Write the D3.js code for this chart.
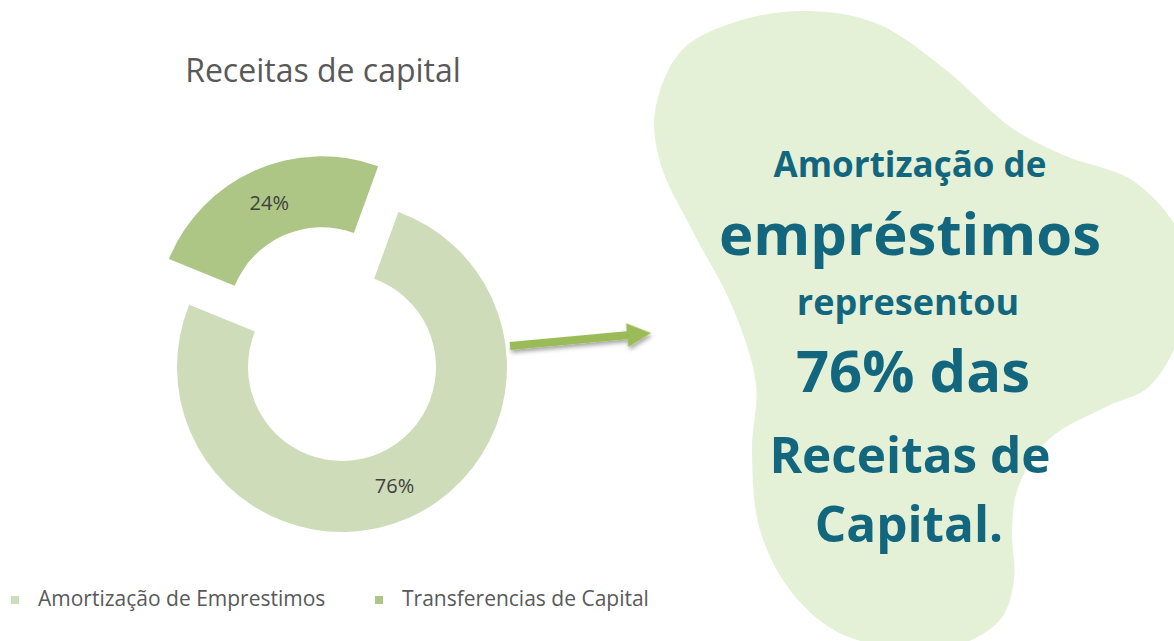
<!DOCTYPE html>
<html>
<head>
<meta charset="utf-8">
<script src="https://cdn.jsdelivr.net/npm/d3@7"></script>
<style>
  body { margin: 0; background: #fff; }
  svg { display: block; }
</style>
</head>
<body>
<div id="chart"></div>
<script>
// data
const categories = ["Amortização de Emprestimos", "Transferencias de Capital"];
const shares = [75.6, 24.4];
const sliceColors = ["#cedcb9", "#adc685"];
const chartTitle = "Receitas de capital";
const calloutLines = ["Amortização de", "empréstimos", "representou", "76% das", "Receitas de", "Capital."];

const svgWidth = 1174, svgHeight = 641;

const svg = d3.select("#chart")
    .append("svg")
    .attr("width", svgWidth)
    .attr("height", svgHeight);

const defs = svg.append("defs");
defs.append("filter")
    .attr("id", "shadow")
    .attr("x", "-20%").attr("y", "-50%")
    .attr("width", "140%").attr("height", "200%")
    .append("feDropShadow")
    .attr("dx", 1).attr("dy", 3)
    .attr("stdDeviation", 2)
    .attr("flood-color", "#000")
    .attr("flood-opacity", 0.35);

// blob behind the callout text
const blobPoints = [
    [655, 112], [682, 50], [742, 20], [810, 11], [878, 24], [946, 70],
    [1012, 128], [1066, 156], [1135, 182], [1182, 240], [1184, 320],
    [1150, 386], [1108, 406], [1048, 440], [1018, 488], [1012, 530],
    [1014, 580], [1000, 620], [946, 648], [846, 636], [793, 594],
    [760, 530], [752, 450], [756, 384], [732, 306], [692, 230], [661, 165]
];
svg.append("path")
    .attr("d", d3.line().curve(d3.curveCatmullRomClosed.alpha(0.5))(blobPoints))
    .attr("fill", "#e5f1d6");

// title
svg.append("text")
    .attr("x", 323)
    .attr("y", 82)
    .attr("text-anchor", "middle")
    .attr("font-family", "Open Sans, sans-serif")
    .attr("font-size", 32)
    .attr("fill", "#595959")
    .text(chartTitle);

// donut
const cx = 342, cy = 367;
const outerR = 165, innerR = 94;
const start = 20 * Math.PI / 180;
const explode = 50;

const pie = d3.pie()
    .sort(null)
    .value(d => d)
    .startAngle(start)
    .endAngle(start + 2 * Math.PI);

const arc = d3.arc()
    .innerRadius(innerR)
    .outerRadius(outerR);

const fmt = d3.format(".0f");

const slices = svg.append("g")
    .attr("transform", `translate(${cx},${cy})`)
    .selectAll("g")
    .data(pie(shares))
    .enter().append("g")
    .attr("transform", (d, i) => {
        if (i !== 1) return null;
        const mid = (d.startAngle + d.endAngle) / 2;
        return `translate(${explode * Math.sin(mid)},${-explode * Math.cos(mid)})`;
    });

slices.append("path")
    .attr("d", arc)
    .attr("fill", (d, i) => sliceColors[i]);

slices.append("text")
    .attr("transform", d => `translate(${arc.centroid(d)})`)
    .attr("dy", "0.36em")
    .attr("text-anchor", "middle")
    .attr("font-family", "Open Sans, sans-serif")
    .attr("font-size", 20)
    .attr("fill", "#404040")
    .text(d => fmt(d.data) + "%");

// legend
const legendX = [11, 375];
const legend = svg.append("g")
    .selectAll("g")
    .data(categories)
    .enter().append("g")
    .attr("transform", (d, i) => `translate(${legendX[i]},596)`);

legend.append("rect")
    .attr("width", 8)
    .attr("height", 8)
    .attr("fill", (d, i) => sliceColors[i]);

legend.append("text")
    .attr("x", 27)
    .attr("y", 10)
    .attr("font-family", "Open Sans, sans-serif")
    .attr("font-size", 21)
    .attr("fill", "#595959")
    .text(d => d);

// arrow
const a0 = [510, 346], a1 = [651, 333];
const len = Math.hypot(a1[0] - a0[0], a1[1] - a0[1]);
const ang = Math.atan2(a1[1] - a0[1], a1[0] - a0[0]) * 180 / Math.PI;
const arrow = svg.append("g")
    .attr("transform", `translate(${a0[0]},${a0[1]}) rotate(${ang})`)
    .attr("filter", "url(#shadow)")
    .attr("fill", "#9bbb59");
arrow.append("rect")
    .attr("x", 0).attr("y", -4)
    .attr("width", len - 22).attr("height", 8);
arrow.append("path")
    .attr("d", `M${len - 24},-12 L${len},0 L${len - 24},12 Z`);

// callout text
const calloutSize = [35, 58, 36, 58, 49.5, 49.5];
const calloutBase = [177, 255, 315, 392, 473, 542];
const calloutX = [910, 910, 908, 913, 910, 909];
svg.append("g")
    .selectAll("text")
    .data(calloutLines)
    .enter().append("text")
    .attr("x", (d, i) => calloutX[i])
    .attr("y", (d, i) => calloutBase[i])
    .attr("text-anchor", "middle")
    .attr("font-family", "Open Sans, sans-serif")
    .attr("font-weight", "bold")
    .attr("font-size", (d, i) => calloutSize[i])
    .attr("fill", "#12677f")
    .text(d => d);
</script>
</body>
</html>
